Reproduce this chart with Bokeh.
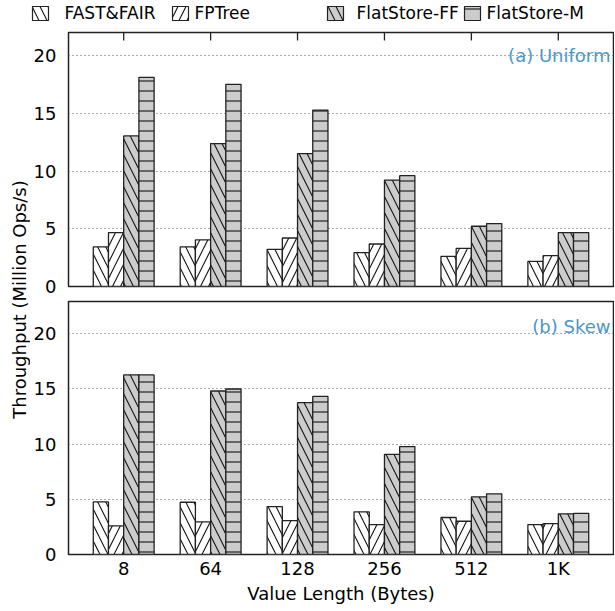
import math
from bokeh.plotting import figure
from bokeh.layouts import column, row
from bokeh.models import (ColumnDataSource, FactorRange, Range1d, Label,
                          SingleIntervalTicker)
from bokeh.core.properties import value
from bokeh.transform import dodge
from bokeh.embed import file_html
from bokeh.resources import INLINE

FONT = "DejaVu Sans"

categories = ["8", "64", "128", "256", "512", "1K"]
series_names = ["FAST&FAIR", "FPTree", "FlatStore-FF", "FlatStore-M"]

uniform_fastfair = [3.43, 3.43, 3.22, 2.93, 2.61, 2.17]
uniform_fptree = [4.67, 4.03, 4.20, 3.68, 3.30, 2.67]
uniform_flatff = [13.04, 12.38, 11.51, 9.22, 5.22, 4.67]
uniform_flatm = [18.12, 17.51, 15.28, 9.60, 5.45, 4.67]

skew_fastfair = [4.76, 4.73, 4.34, 3.86, 3.35, 2.71]
skew_fptree = [2.59, 2.95, 3.07, 2.71, 3.01, 2.80]
skew_flatff = [16.25, 14.80, 13.74, 9.07, 5.21, 3.68]
skew_flatm = [16.25, 14.98, 14.31, 9.77, 5.49, 3.73]

y_ticks_interval = 5

keys = ["fastfair", "fptree", "flatff", "flatm"]
fills = ["white", "white", "#cccccc", "#cccccc"]
hatches = ["\\", "/", "\\", "-"]
hatch_scales = [16, 16, 16, 10]
BAR_W = 0.175
offsets = [-1.5 * BAR_W, -0.5 * BAR_W, 0.5 * BAR_W, 1.5 * BAR_W]
LINE = "#222222"
TAG_COLOR = "#4a97c9"


def bar_style(i):
    return dict(fill_color=fills[i], line_color=LINE, line_width=1.3,
                hatch_pattern=hatches[i], hatch_color="#111111",
                hatch_weight=1.1, hatch_scale=hatch_scales[i])


def make_panel(vals, height, frame_h, y_end, top_panel, tag, tag_y):
    src = ColumnDataSource(dict(x=categories, **{k: v for k, v in zip(keys, vals)}))
    p = figure(x_range=FactorRange(*categories, range_padding=0.045),
               y_range=Range1d(0, y_end), width=584, height=height,
               output_backend="svg", toolbar_location=None,
               min_border_left=34, min_border_right=1,
               min_border_top=7 if top_panel else 5,
               min_border_bottom=10 if top_panel else 55)
    for i, k in enumerate(keys):
        p.vbar(x=dodge("x", offsets[i], range=p.x_range), top=k,
               width=BAR_W, source=src, **bar_style(i))
    p.xgrid.visible = False
    p.ygrid.grid_line_dash = "1 3"
    p.ygrid.grid_line_color = "#555555"
    p.ygrid.grid_line_width = 1
    p.yaxis.ticker = SingleIntervalTicker(interval=y_ticks_interval)
    p.yaxis.major_tick_in = 0
    p.yaxis.major_tick_out = 0
    p.yaxis.minor_tick_line_color = None
    p.yaxis.axis_line_color = None
    p.yaxis.major_label_standoff = 8
    p.yaxis.major_label_text_font = FONT
    p.yaxis.major_label_text_font_size = "18px"
    p.yaxis.major_label_text_color = "black"
    if top_panel:
        p.xaxis.visible = False
        # inward tick marks on the top edge, one per category (8 px long)
        tick_len = 8.0 / frame_h * y_end
        p.segment(x0=categories, x1=categories, y0=[y_end] * len(categories),
                  y1=[y_end - tick_len] * len(categories), line_color=LINE,
                  line_width=1.3)
    else:
        p.xaxis.axis_line_color = None
        p.xaxis.major_label_text_font = FONT
        p.xaxis.major_label_text_color = "black"
        p.xaxis.major_tick_in = 0
        p.xaxis.major_tick_out = 0
        p.xaxis.major_label_text_font_size = "18px"
        p.xaxis.major_label_standoff = 3
        p.xaxis.axis_label = "Value Length (Bytes)"
        p.xaxis.axis_label_text_font = FONT
        p.xaxis.axis_label_text_font_size = "18px"
        p.xaxis.axis_label_text_font_style = "normal"
        p.xaxis.axis_label_text_color = "black"
        p.xaxis.axis_label_standoff = 1
    p.outline_line_color = LINE
    p.outline_line_width = 1.5
    p.background_fill_color = "white"
    p.border_fill_color = "white"
    p.add_layout(Label(x=6.10, y=tag_y, text=tag, text_align="right",
                       text_baseline="alphabetic", text_color=TAG_COLOR,
                       text_font=FONT, text_font_size="18px"))
    return p


top = make_panel([uniform_fastfair, uniform_fptree, uniform_flatff, uniform_flatm],
                 271, 254, 22.0, True, "(a) Uniform", 20.0)
bottom = make_panel([skew_fastfair, skew_fptree, skew_flatff, skew_flatm],
                    313, 253, 22.9, False, "(b) Skew", 20.6)

# legend strip above the panels (1 data unit = 1 pixel in this strip)
leg = figure(width=614, height=25, x_range=Range1d(0, 614), y_range=Range1d(0, 25),
             output_backend="svg", toolbar_location=None, x_axis_type=None,
             y_axis_type=None, min_border=0)
leg.grid.visible = False
leg.outline_line_color = None
legend_swatch_x = [40, 180, 335, 472]
legend_text_x = [64, 194, 356, 486]
leg_src = ColumnDataSource(dict(sx=legend_swatch_x, tx=legend_text_x,
                                name=series_names, fill=fills, hatch=hatches))
leg.rect(x="sx", y=12, width=16, height=14, source=leg_src, fill_color="fill",
         line_color=LINE, line_width=1.2, hatch_pattern="hatch", hatch_color="#111111",
         hatch_weight=1.1, hatch_scale=16)
leg.text(x="tx", y=13, text="name", source=leg_src, text_font=value(FONT),
         text_font_size="17px", text_color="black", text_baseline="middle",
         text_align="left")

# y-axis title spanning both panels
lab = figure(width=30, height=584, x_range=Range1d(0, 30), y_range=Range1d(0, 584),
             output_backend="svg", toolbar_location=None, x_axis_type=None,
             y_axis_type=None, min_border=0)
lab.grid.visible = False
lab.outline_line_color = None
lab.add_layout(Label(x=19, y=310, text="Throughput (Million Ops/s)", angle=math.pi / 2,
                     text_align="center", text_baseline="middle", text_font=FONT,
                     text_font_size="18px", text_color="black"))

layout = column(leg, row(lab, column(top, bottom)))

open("out.html", "w").write(file_html(layout, INLINE))
